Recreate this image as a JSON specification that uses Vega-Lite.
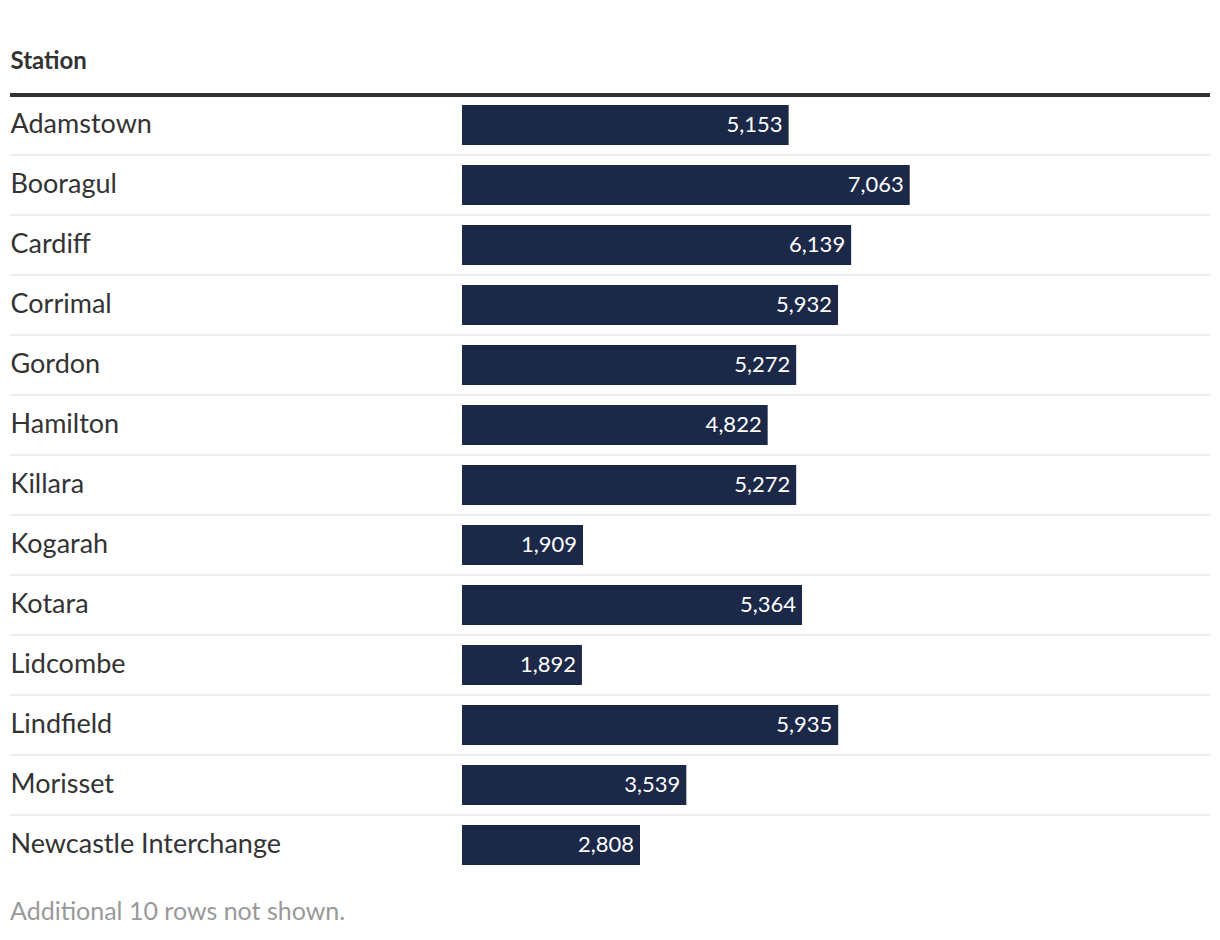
{
  "$schema": "https://vega.github.io/schema/vega-lite/v6.json",
  "width": 1200,
  "height": 780,
  "autosize": {"type": "none"},
  "padding": {"left": 10, "top": 95, "right": 10, "bottom": 65},
  "background": "white",
  "config": {"view": {"stroke": null}, "font": "Lato"},
  "title": {"text": "Additional 10 rows not shown.", "orient": "bottom", "anchor": "start", "fontSize": 25, "fontWeight": "normal", "color": "#999999", "offset": 25, "dx": 2, "font": "Lato"},
  "data": {"values": [
    {"Station": "Adamstown", "Value": 5153},
    {"Station": "Booragul", "Value": 7063},
    {"Station": "Cardiff", "Value": 6139},
    {"Station": "Corrimal", "Value": 5932},
    {"Station": "Gordon", "Value": 5272},
    {"Station": "Hamilton", "Value": 4822},
    {"Station": "Killara", "Value": 5272},
    {"Station": "Kogarah", "Value": 1909},
    {"Station": "Kotara", "Value": 5364},
    {"Station": "Lidcombe", "Value": 1892},
    {"Station": "Lindfield", "Value": 5935},
    {"Station": "Morisset", "Value": 3539},
    {"Station": "Newcastle Interchange", "Value": 2808}
  ]},
  "encoding": {
    "y": {"field": "Station", "type": "nominal", "sort": null,
      "scale": {"paddingInner": 0, "paddingOuter": 0},
      "axis": {"title": "Station", "titleAngle": 0, "titleAlign": "left", "titleX": 0, "titleY": -27, "titleBaseline": "alphabetic", "titleFontSize": 24, "titleFontWeight": "bold", "titleColor": "#333333",
        "labelAlign": "left", "labelPadding": 0, "tickSize": 0, "ticks": false, "domain": false, "labelFontSize": 27, "labelColor": "#333333", "labelLimit": 0, "labelBaseline": "middle"}}
  },
  "layer": [
    {
      "mark": {"type": "rule"},
      "encoding": {
        "y": {"field": "Station", "type": "nominal", "sort": null, "bandPosition": 0},
        "strokeWidth": {"condition": {"test": "datum.Station == 'Adamstown'", "value": 4}, "value": 2},
        "color": {"condition": {"test": "datum.Station == 'Adamstown'", "value": "#333333"}, "value": "#eeeeee"}
      }
    },
    {
      "mark": {"type": "bar", "color": "#1c2848", "height": {"band": 0.6667}},
      "encoding": {
        "x": {"field": "Value", "type": "quantitative", "scale": {"domain": [0, 11800], "range": [452, 1200], "nice": false, "zero": true}, "axis": null}
      }
    },
    {
      "mark": {"type": "text", "align": "right", "baseline": "middle", "dx": -6, "fontSize": 22, "color": "white"},
      "encoding": {
        "x": {"field": "Value", "type": "quantitative"},
        "text": {"field": "Value", "type": "quantitative", "format": ","}
      }
    }
  ]
}
